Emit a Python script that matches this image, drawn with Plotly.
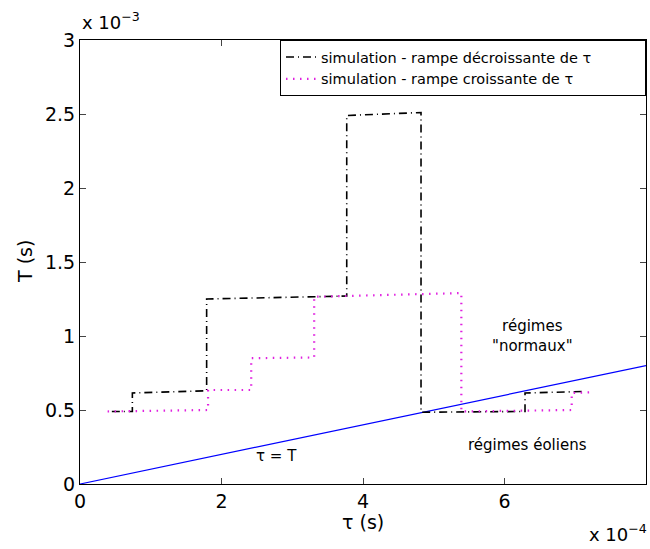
import plotly.graph_objects as go

# Units: tau in 1e-4 s, T in 1e-3 s
dec_tau = [0.45, 0.74, 0.74, 1.79, 1.79, 3.77, 3.77, 4.82, 4.82, 6.29, 6.29, 7.13]
dec_T = [0.49, 0.49, 0.615, 0.63, 1.25, 1.27, 2.49, 2.51, 0.485, 0.49, 0.615, 0.625]

inc_tau = [0.39, 1.81, 1.81, 2.42, 2.42, 3.31, 3.31, 5.39, 5.39, 6.95, 6.95, 7.23]
inc_T = [0.49, 0.50, 0.635, 0.635, 0.85, 0.855, 1.265, 1.29, 0.49, 0.50, 0.615, 0.62]

ref_tau = [0, 8]
ref_T = [0, 0.8]

xticks = [0, 2, 4, 6, 8]
yticks = [0, 0.5, 1, 1.5, 2, 2.5, 3]
yticktext = ["0", "0.5", "1", "1.5", "2", "2.5", "3"]

FONT = "DejaVu Sans"

fig = go.Figure()
fig.add_trace(go.Scatter(x=ref_tau, y=ref_T, mode="lines",
                         line=dict(color="blue", width=1.2), showlegend=False))
fig.add_trace(go.Scatter(x=dec_tau, y=dec_T, mode="lines",
                         name="simulation - rampe décroissante de τ",
                         line=dict(color="black", width=1.6, dash="8px,4px,1px,4px")))
fig.add_trace(go.Scatter(x=inc_tau, y=inc_T, mode="lines",
                         name="simulation - rampe croissante de τ",
                         line=dict(color="#e020e0", width=2.2, dash="1.5px,5.5px")))

fig.update_layout(
    width=650, height=549,
    margin=dict(l=80, r=4, t=40, b=65),
    paper_bgcolor="white", plot_bgcolor="white",
    font=dict(family=FONT, size=19, color="black"),
    legend=dict(x=1, xanchor="right", y=1, yanchor="top",
                orientation="h", entrywidth=319, entrywidthmode="pixels",
                bordercolor="black", borderwidth=1, bgcolor="white",
                font=dict(size=14.5, family=FONT), tracegroupgap=0),
    xaxis=dict(range=[0, 8], tickvals=xticks, ticks="inside", ticklen=6,
               showline=True, linecolor="black", linewidth=1, mirror="ticks",
               showgrid=False, zeroline=False, automargin=False,
               tickfont=dict(size=19)),
    yaxis=dict(range=[0, 3], tickvals=yticks, ticktext=yticktext, ticks="inside", ticklen=6,
               showline=True, linecolor="black", linewidth=1, mirror="ticks",
               showgrid=False, zeroline=False, automargin=False,
               tickfont=dict(size=19)),
    annotations=[
        dict(xref="paper", yref="paper", x=0.5, y=0, yshift=-38, xanchor="center", yanchor="middle",
             text="τ (s)", showarrow=False, font=dict(size=19)),
        dict(xref="paper", yref="paper", x=0, xshift=-55, y=0.5, xanchor="center", yanchor="middle",
             text="T (s)", textangle=-90, showarrow=False, font=dict(size=19)),
        dict(xref="paper", yref="paper", x=0, y=1, yshift=5, xanchor="left", yanchor="bottom",
             text="x 10<sup>−3</sup>", showarrow=False, font=dict(size=18)),
        dict(xref="paper", yref="paper", x=1, xshift=3, y=0, xanchor="right", yanchor="middle", yshift=-49,
             text="x 10<sup>−4</sup>", showarrow=False, font=dict(size=18)),
        dict(x=6.39, y=1.0, text="régimes<br>\"normaux\"", showarrow=False,
             font=dict(size=15)),
        dict(x=6.33, y=0.264, text="régimes éoliens", showarrow=False, font=dict(size=15)),
        dict(x=2.78, y=0.19, text="τ = T", showarrow=False, font=dict(size=15)),
    ],
)

fig.write_html("out.html", config={"displayModeBar": False},
               post_script="document.body.style.margin='0';")
